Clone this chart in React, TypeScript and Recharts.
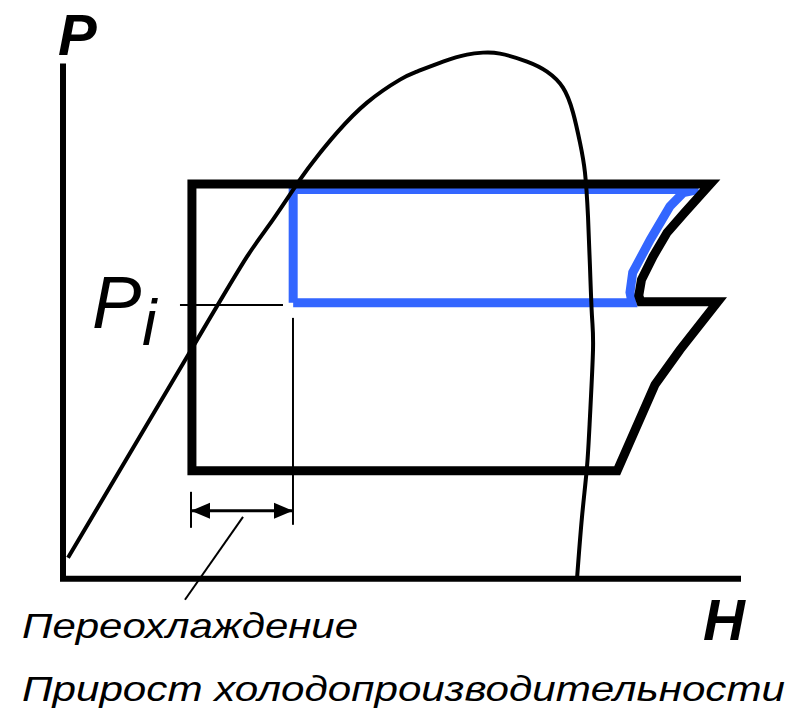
import React from "react";
import { ComposedChart, Line, Scatter, XAxis, YAxis } from "recharts";

// P-H диаграмма: H по горизонтали (0..100), P по вертикали (0..100)
const axes = [
  { h: 0, p: 100 },
  { h: 0, p: 0 },
  { h: 100, p: 0 },
];

// пограничная кривая (насыщение)
const dome = [
  { h: 0.74, p: 4.1 },
  { h: 19.26, p: 45.31 },
  { h: 27.26, p: 62.89 },
  { h: 31.11, p: 70.12 },
  { h: 35.11, p: 77.93 },
  { h: 37.63, p: 82.42 },
  { h: 40.59, p: 87.11 },
  { h: 45.04, p: 92.97 },
  { h: 49.93, p: 97.46 },
  { h: 52.44, p: 99.02 },
  { h: 56.3, p: 100.98 },
  { h: 59.85, p: 102.34 },
  { h: 62.22, p: 102.73 },
  { h: 64.74, p: 102.54 },
  { h: 68.74, p: 100.98 },
  { h: 71.7, p: 99.02 },
  { h: 74.07, p: 95.9 },
  { h: 75.56, p: 91.02 },
  { h: 76.59, p: 85.16 },
  { h: 77.33, p: 79.3 },
  { h: 77.78, p: 70.7 },
  { h: 78.07, p: 60.94 },
  { h: 78.37, p: 51.17 },
  { h: 78.52, p: 44.73 },
  { h: 78.07, p: 31.64 },
  { h: 77.63, p: 21.88 },
  { h: 76.89, p: 12.11 },
  { h: 76.15, p: 0 },
];

// двухступенчатый цикл
const cycleBlack = [
  { h: 19.1, p: 21.1 },
  { h: 19.1, p: 77.1 },
  { h: 95.9, p: 77.1 },
  { h: 92.1, p: 71.5 },
  { h: 89.5, p: 67.6 },
  { h: 87.4, p: 62.9 },
  { h: 85.7, p: 58.4 },
  { h: 85.3, p: 55.3 },
  { h: 85.6, p: 54.1 },
  { h: 97.0, p: 54.1 },
  { h: 91.4, p: 44.7 },
  { h: 87.7, p: 37.9 },
  { h: 82.1, p: 21.1 },
  { h: 19.1, p: 21.1 },
];

// цикл с промежуточным давлением Pi
const cycleBlue = [
  { h: 34.1, p: 53.9 },
  { h: 34.1, p: 76.0 },
  { h: 94.1, p: 76.0 },
  { h: 91.9, p: 75.4 },
  { h: 89.9, p: 72.7 },
  { h: 87.0, p: 66.2 },
  { h: 84.4, p: 59.8 },
  { h: 84.0, p: 55.9 },
  { h: 84.3, p: 53.9 },
  { h: 34.1, p: 53.9 },
];

const piLine = [
  { h: 17.33, p: 53.47 },
  { h: 32.59, p: 53.47 },
];
const subcoolRight = [
  { h: 34.07, p: 50.94 },
  { h: 34.07, p: 10.54 },
];
const subcoolLeft = [
  { h: 18.96, p: 16.98 },
  { h: 18.96, p: 9.95 },
];
const dimLine = [
  { h: 18.96, p: 13.27 },
  { h: 34.07, p: 13.27 },
];
const arrowHeads = [
  { h: 18.96, p: 13.27, dir: -1 },
  { h: 34.07, p: 13.27, dir: 1 },
];
const leader = [
  { h: 26.67, p: 12.1 },
  { h: 18.07, p: -4.1 },
];

const BLUE = "#3366ff";

const ArrowHead = (props: any) => {
  const { cx, cy, payload } = props;
  const d = payload.dir;
  const len = 19;
  const half = 8;
  return (
    <polygon
      points={`${cx},${cy} ${cx - d * len},${cy - half} ${cx - d * len},${cy + half}`}
      fill="#000"
    />
  );
};

export default function App() {
  const font = "'Liberation Sans', Arial, sans-serif";
  return (
    <div style={{ position: "fixed", left: 0, top: 0, background: "#fff" }}>
      <ComposedChart
        width={799}
        height={708}
        margin={{ top: 41, right: 61, bottom: 78, left: 63 }}
      >
        <XAxis dataKey="h" type="number" domain={[0, 100]} hide height={0} />
        <YAxis dataKey="p" type="number" domain={[-10, 105]} hide width={0} />
        <Line data={axes} dataKey="p" stroke="#000" strokeWidth={6} dot={false} type="linear" strokeLinejoin="miter" strokeLinecap="square" isAnimationActive={false} />
        <Line data={cycleBlue} dataKey="p" stroke={BLUE} strokeWidth={9} dot={false} type="linear" strokeLinejoin="miter" strokeLinecap="butt" isAnimationActive={false} />
        <Line data={cycleBlack} dataKey="p" stroke="#000" strokeWidth={9} dot={false} type="linear" strokeLinejoin="miter" strokeLinecap="square" isAnimationActive={false} />
        <Line data={dome} dataKey="p" stroke="#000" strokeWidth={4} dot={false} type="natural" isAnimationActive={false} />
        <Line data={piLine} dataKey="p" stroke="#000" strokeWidth={2} dot={false} type="linear" isAnimationActive={false} />
        <Line data={subcoolRight} dataKey="p" stroke="#000" strokeWidth={2} dot={false} type="linear" isAnimationActive={false} />
        <Line data={subcoolLeft} dataKey="p" stroke="#000" strokeWidth={2} dot={false} type="linear" isAnimationActive={false} />
        <Line data={dimLine} dataKey="p" stroke="#000" strokeWidth={3} dot={false} type="linear" isAnimationActive={false} />
        <Line data={leader} dataKey="p" stroke="#000" strokeWidth={2} dot={false} type="linear" isAnimationActive={false} />
        <Scatter data={arrowHeads} dataKey="p" shape={<ArrowHead />} isAnimationActive={false} />

        <text x={58} y={55} fontFamily={font} fontWeight="bold" fontStyle="italic" fontSize={58}>P</text>
        <text x={703} y={640} fontFamily={font} fontWeight="bold" fontStyle="italic" fontSize={58}>H</text>
        <text x={92} y={328} fontFamily={font} fontStyle="italic" fontSize={74}>P</text>
        <text x={142} y={345} fontFamily={font} fontStyle="italic" fontSize={65}>i</text>
        <text x={22} y={638} fontFamily={font} fontStyle="italic" fontSize={35} textLength={336} lengthAdjust="spacingAndGlyphs">Переохлаждение</text>
        <text x={22} y={701} fontFamily={font} fontStyle="italic" fontSize={35} textLength={763} lengthAdjust="spacingAndGlyphs">Прирост холодопроизводительности</text>
      </ComposedChart>
    </div>
  );
}
